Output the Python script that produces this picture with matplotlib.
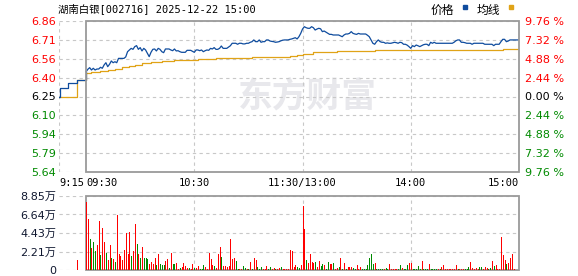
import numpy as np
import matplotlib
matplotlib.use("Agg")
from matplotlib import pyplot as plt
from matplotlib.patches import Rectangle

plt.rcParams['font.family'] = ['DejaVu Sans', 'Noto Sans CJK SC']

title = "湖南白银[002716] 2025-12-22 15:00"
prev_close = 6.25

# price axis ticks (left: price, right: change in %)
price_ticks = [6.86, 6.7075, 6.555, 6.4025, 6.25, 6.0975, 5.945, 5.7925, 5.64]
price_labels = ["6.86", "6.71", "6.56", "6.40", "6.25", "6.10", "5.94", "5.79", "5.64"]
pct_labels = ["9.76 %", "7.32 %", "4.88 %", "2.44 %", "0.00 %", "2.44 %", "4.88 %", "7.32 %", "9.76 %"]

vol_ticks = [0, 2.21, 4.43, 6.64, 8.85]
vol_labels = ["0", "2.21万", "4.43万", "6.64万", "8.85万"]

time_ticks = [-15, 0, 60, 120, 180, 240]
time_labels = ["9:15", "09:30", "10:30", "11:30/13:00", "14:00", "15:00"]

# call auction 9:15-9:25 (minutes before 9:30)
pre_min = [-15, -14.5, -10, -5]
pre_price = [6.25, 6.32, 6.36, 6.38]
pre_vol_min = [-5]
pre_vol = [1.2]

# intraday price, one value per trading minute (0 = 9:30, 240 = 15:00)
price = [
    6.45, 6.47, 6.483, 6.464, 6.478, 6.464, 6.472, 6.472, 6.486, 6.478,
    6.505, 6.523, 6.491, 6.51, 6.537, 6.523, 6.531, 6.523, 6.558, 6.558,
    6.558, 6.558, 6.57, 6.612, 6.625, 6.639, 6.631, 6.653, 6.661, 6.631,
    6.645, 6.618, 6.639, 6.626, 6.599, 6.572, 6.607, 6.631, 6.634, 6.618,
    6.639, 6.631, 6.612, 6.604, 6.634, 6.634, 6.634, 6.626, 6.62, 6.634,
    6.618, 6.62, 6.612, 6.607, 6.607, 6.607, 6.623, 6.623, 6.623, 6.615,
    6.607, 6.626, 6.626, 6.62, 6.626, 6.612, 6.62, 6.626, 6.623, 6.639,
    6.634, 6.645, 6.631, 6.631, 6.639, 6.658, 6.639, 6.639, 6.639, 6.65,
    6.66, 6.68, 6.68, 6.68, 6.672, 6.68, 6.68, 6.675, 6.675, 6.68,
    6.68, 6.688, 6.693, 6.707, 6.693, 6.693, 6.707, 6.688, 6.693, 6.693,
    6.707, 6.707, 6.698, 6.695, 6.693, 6.688, 6.69, 6.693, 6.7, 6.705,
    6.707, 6.707, 6.707, 6.712, 6.715, 6.72, 6.725, 6.715, 6.733, 6.76,
    6.795, 6.814, 6.806, 6.801, 6.801, 6.814, 6.806, 6.787, 6.795, 6.801,
    6.797, 6.774, 6.779, 6.77, 6.76, 6.752, 6.752, 6.747, 6.747, 6.747,
    6.747, 6.74, 6.733, 6.747, 6.755, 6.755, 6.76, 6.774, 6.76, 6.755,
    6.752, 6.76, 6.755, 6.755, 6.755, 6.755, 6.745, 6.733, 6.707, 6.68,
    6.672, 6.693, 6.707, 6.693, 6.688, 6.688, 6.68, 6.683, 6.68, 6.68,
    6.684, 6.688, 6.685, 6.68, 6.688, 6.685, 6.672, 6.672, 6.665, 6.653,
    6.639, 6.661, 6.653, 6.666, 6.66, 6.653, 6.661, 6.668, 6.672, 6.672,
    6.661, 6.688, 6.68, 6.688, 6.68, 6.68, 6.68, 6.68, 6.68, 6.68,
    6.68, 6.68, 6.68, 6.68, 6.688, 6.7, 6.707, 6.707, 6.688, 6.688,
    6.685, 6.68, 6.68, 6.68, 6.672, 6.68, 6.68, 6.68, 6.68, 6.68,
    6.68, 6.672, 6.672, 6.672, 6.672, 6.672, 6.661, 6.672, 6.672, 6.672,
    6.693, 6.712, 6.712, 6.693, 6.698, 6.707, 6.707, 6.707, 6.707, 6.707,
    6.707]

# average price line, value changes at these minutes
avg_min = [-15, -5, 0, 3, 8, 12, 16, 20, 24, 27, 31, 36, 42, 49, 62, 72, 80, 92,
           113, 117, 120, 126, 139, 160, 231, 240]
avg_val = [6.25, 6.38, 6.437, 6.445, 6.455, 6.464, 6.475, 6.485, 6.496, 6.508, 6.518,
           6.528, 6.538, 6.548, 6.553, 6.558, 6.564, 6.572, 6.58, 6.587, 6.595,
           6.607, 6.618, 6.626, 6.634, 6.634]

# volume per minute in 万 shares
vol = [
    8.13, 6.1, 3.7, 2.6, 3.35, 2.27, 3.0, 5.86, 1.8, 5.0,
    3.35, 2.03, 1.2, 3.0, 1.43, 1.3, 0.96, 6.57, 1.9, 1.67,
    1.2, 2.4, 4.4, 1.9, 4.5, 1.67, 2.27, 5.5, 3.1, 1.9,
    1.43, 2.75, 1.43, 1.43, 1.3, 0.7, 0.96, 0.7, 1.43, 0.6,
    1.9, 0.7, 0.6, 0.6, 1.07, 1.3, 0.24, 2.03, 0.7, 0.7,
    0.84, 0.12, 0.24, 0.36, 0.84, 0.48, 0.24, 0.24, 0.12, 0.7,
    0.24, 0.24, 0.48, 0.12, 0.12, 0.6, 0.36, 0.12, 2.03, 1.3,
    0.6, 0.48, 0.24, 1.9, 2.75, 1.55, 0.48, 0.48, 0.36, 0.48,
    3.7, 1.3, 1.43, 1.07, 0.12, 0.12, 0.12, 0.48, 0.24, 0.12,
    0.12, 0.96, 0.12, 1.43, 1.2, 0.36, 0.12, 0.36, 0.12, 0.12,
    0.48, 0.12, 0.36, 0.12, 0.24, 0.12, 0.12, 0.24, 0.36, 0.12,
    0.12, 0.12, 0.12, 2.4, 2.27, 0.36, 0.6, 0.36, 0.24, 0.6,
    7.65, 4.9, 1.2, 0.84, 1.9, 0.96, 0.84, 0.96, 0.36, 1.07,
    0.48, 0.7, 0.6, 0.12, 0.96, 0.7, 0.7, 0.84, 0.12, 0.24,
    0.36, 1.43, 0.12, 0.84, 0.12, 0.36, 0.36, 0.36, 0.24, 0.12,
    0.6, 0.12, 0.36, 0.12, 0.12, 0.12, 0.6, 1.43, 1.9, 0.7,
    0.84, 0.12, 0.12, 0.12, 0.12, 0.12, 0.24, 0.12, 0.7, 0.12,
    0.12, 0.12, 0.12, 0.12, 0.6, 0.24, 0.12, 0.12, 0.6, 0.84,
    0.84, 0.12, 0.12, 0.12, 0.48, 0.12, 1.07, 0.12, 0.12, 0.12,
    0.7, 0.12, 0.12, 0.12, 0.12, 0.12, 0.12, 0.36, 0.6, 0.12,
    0.12, 0.12, 0.12, 0.12, 0.12, 0.6, 0.12, 0.12, 0.12, 0.12,
    0.12, 0.12, 0.36, 0.96, 0.24, 0.12, 0.24, 0.12, 0.36, 0.36,
    0.12, 0.36, 0.24, 0.12, 0.24, 1.07, 0.48, 0.6, 0.12, 0.12,
    3.95, 1.8, 1.2, 0.7, 0.84, 1.43, 1.9, 0.12, 0, 0,
    2.27]

# r = up minute, g = down minute
vol_dir = ("rrgrggrrgr" "rgrrgrgrrr" "rrrrrgrrgr" "grgggrrrrg" "rgggrrgrgg"
           "rrgrrrrgrr" "grrgggrrrr" "rgrrrgrrrr" "rrrggrrggr" "grgrrgggrr"
           "rggrrgrrgr" "rrrrrrrggr" "rrgrrrrgrr" "ggrggrrgrr" "grgrgrrrgg"
           "rrrggggggg" "rggggrggrr" "rrrggrgggr" "rgggggrggg" "rggggrgrrr"
           "rrrrrrgrrr" "gggrrrrrgg" "rrrggrgrrr" "rrrgrrrrrr" "r")

RED = '#ff0000'
GREEN = '#008a00'
BLUE = '#0f4c9e'
GOLD = '#e0a317'
GRID = '#c8c8c8'
FRAME = '#9a9a9a'

minutes = np.arange(len(price))
W, H = 578, 276

fig = plt.figure(figsize=(W / 100, H / 100), dpi=100)
ax = fig.add_axes([59 / W, (H - 172) / H, 460 / W, 151 / H])
axv = fig.add_axes([59 / W, (H - 270) / H, 460 / W, 74 / H])

# ---- price panel
ax.set_xlim(-15, 240)
ax.set_ylim(price_ticks[-1], price_ticks[0])
ax.hlines(price_ticks, -15, 240, colors=GRID, linestyles=(0, (3, 3)), lw=0.8)
ax.vlines([-15, 60, 120, 180], price_ticks[-1], price_ticks[0], colors=GRID,
          linestyles=(0, (3, 3)), lw=0.8)
ax.add_patch(Rectangle((0, price_ticks[-1]), 240, price_ticks[0] - price_ticks[-1],
                       fill=False, edgecolor=FRAME, lw=1.3, zorder=5, clip_on=False))

ax.text(0.541, 0.50, "东方财富", transform=ax.transAxes, ha='center', va='center',
        fontsize=25, fontweight='bold', color='#e8e8ec', family='Noto Sans CJK SC', zorder=1)

ax.plot(np.r_[pre_min, 0], np.r_[pre_price, price[0]], drawstyle='steps-post',
        color=BLUE, lw=0.9, zorder=4)
ax.plot(minutes, price, color=BLUE, lw=0.9, zorder=4)
ax.plot(avg_min, avg_val, drawstyle='steps-post', color=GOLD, lw=0.9, zorder=3)

for s in ax.spines.values():
    s.set_visible(False)
ax.set_yticks(price_ticks, price_labels)
ax.tick_params(axis='y', length=0, pad=2, labelsize=8)
ax.set_xticks(time_ticks, time_labels)
ax.tick_params(axis='x', length=0, pad=4, labelsize=7.5)
for lab in ax.get_xticklabels():
    lab.set_family('DejaVu Sans Mono')
xl = ax.get_xticklabels()
xl[0].set_ha('left')
xl[1].set_ha('left')
xl[-1].set_ha('right')

axr = ax.twinx()
axr.set_ylim(ax.get_ylim())
axr.set_yticks(price_ticks, pct_labels)
axr.tick_params(axis='y', length=0, pad=4, labelsize=8)
for s in axr.spines.values():
    s.set_visible(False)

for i, (l1, l2) in enumerate(zip(ax.get_yticklabels(), axr.get_yticklabels())):
    if price_ticks[i] > prev_close:
        c = RED
    elif price_ticks[i] < prev_close:
        c = GREEN
    else:
        c = 'black'
    l1.set_color(c)
    l2.set_color(c)

# ---- volume panel
axv.set_xlim(-15, 240)
axv.set_ylim(0, vol_ticks[-1])
axv.hlines(vol_ticks, -15, 240, colors=GRID, linestyles=(0, (3, 3)), lw=0.8)
axv.vlines([60, 120, 180], 0, vol_ticks[-1], colors=GRID, linestyles=(0, (3, 3)), lw=0.8)
axv.add_patch(Rectangle((0, 0), 240, vol_ticks[-1], fill=False, edgecolor=FRAME,
                        lw=1.3, zorder=5, clip_on=False))
colors = [RED if d == 'r' else GREEN for d in vol_dir]
axv.vlines(minutes, 0, vol, colors=colors, lw=0.7, antialiased=False, zorder=6)
axv.vlines(pre_vol_min, 0, pre_vol, colors=RED, lw=0.7, antialiased=False, zorder=6)
for s in axv.spines.values():
    s.set_visible(False)
axv.set_xticks([])
axv.set_yticks(vol_ticks, vol_labels)
axv.tick_params(axis='y', length=0, pad=2, labelsize=8, labelcolor='#101830')

# ---- title and legend
fig.text(58 / W, 1 - 9 / H, title, ha='left', va='center', fontsize=7.5,
         family=['DejaVu Sans Mono', 'Noto Sans CJK SC'])
fig.text(442 / W, 1 - 10 / H, "价格", ha='center', va='center', fontsize=8.5,
         family='Noto Sans CJK SC')
fig.text(488 / W, 1 - 10 / H, "均线", ha='center', va='center', fontsize=8.5,
         family='Noto Sans CJK SC')
fig.patches.append(Rectangle((463 / W, 1 - 8.5 / H), 4 / W, 3 / H, color=BLUE,
                             transform=fig.transFigure, figure=fig))
fig.patches.append(Rectangle((509 / W, 1 - 8.5 / H), 4 / W, 3 / H, color=GOLD,
                             transform=fig.transFigure, figure=fig))

fig.savefig("out.png", dpi=100)
